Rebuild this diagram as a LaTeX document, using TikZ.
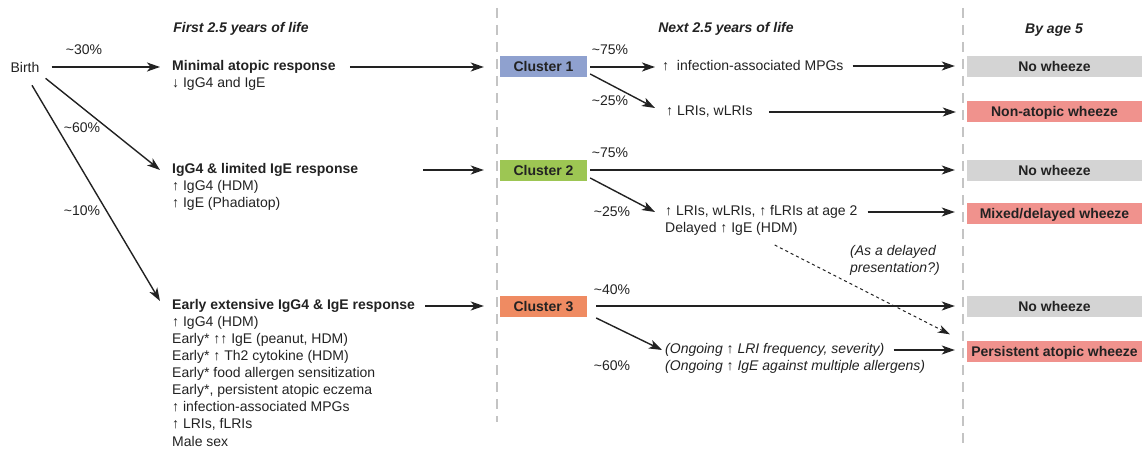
\documentclass[tikz,border=0pt]{standalone}
\usepackage{fontspec}
\setmainfont{Liberation Sans}
\usetikzlibrary{arrows.meta}
\definecolor{cone}{HTML}{8FA1CF}
\definecolor{ctwo}{HTML}{9DC653}
\definecolor{cthree}{HTML}{EF8B62}
\definecolor{nowh}{HTML}{D4D4D4}
\definecolor{wh}{HTML}{F0928D}
\definecolor{ink}{HTML}{222222}
\definecolor{divider}{HTML}{C4C4C4}
\begin{document}
\begin{tikzpicture}[x=1pt,y=-1pt,
  every node/.style={font=\fontsize{14}{17}\selectfont, text=ink, inner sep=0pt},
  txt/.style={anchor=west},
  itx/.style={anchor=west,font=\fontsize{14}{17}\selectfont\itshape},
  hdr/.style={font=\fontsize{14}{17}\selectfont\bfseries\itshape},
  ttl/.style={anchor=west,font=\fontsize{14}{17}\selectfont\bfseries},
  clus/.style={minimum width=87pt, minimum height=21pt, text height=10pt, text depth=0pt, font=\fontsize{14}{17}\selectfont\bfseries},
  outc/.style={minimum width=175pt, minimum height=21pt, text height=10pt, text depth=0pt, font=\fontsize{14}{17}\selectfont\bfseries},
  arr/.style={draw=ink, line width=1.4pt, -{Stealth[length=13pt,width=9pt,inset=3.5pt]}},
  darr/.style={draw=ink, line width=1pt, dash pattern=on 3pt off 3pt, -{Stealth[length=12pt,width=8pt,inset=3.5pt]}},
  divl/.style={draw=divider, line width=2pt, dash pattern=on 10pt off 7pt}
]
\useasboundingbox (0,0) rectangle (1146,452);
% dividers
\draw[divl] (497,8) -- (497,422);
\draw[divl] (963,8) -- (963,448);
% headers
\node[hdr] (h1) at (241,29) {First 2.5 years of life};
\node[hdr] (h2) at (726,29) {Next 2.5 years of life};
\node[hdr] (h3) at (1054,30) {By age 5};
% left column
\node (birth) at (25,67) {Birth};
\node[ttl] (min) at (172,67) {Minimal atopic response};
\node[txt] (mind) at (172,84) {↓ IgG4 and IgE};
\node[ttl] (lim) at (172,170) {IgG4 \& limited IgE response};
\node[txt] (limd1) at (172,187) {↑ IgG4 (HDM)};
\node[txt] (limd2) at (172,204) {↑ IgE (Phadiatop)};
\node[ttl] (early) at (172,306) {Early extensive IgG4 \& IgE response};
\node[txt] (e1) at (172,323) {↑ IgG4 (HDM)};
\node[txt] (e2) at (172,340) {Early* ↑↑ IgE (peanut, HDM)};
\node[txt] (e3) at (172,357) {Early* ↑ Th2 cytokine (HDM)};
\node[txt] (e4) at (172,373.5) {Early* food allergen sensitization};
\node[txt] (e5) at (172,390.5) {Early*, persistent atopic eczema};
\node[txt] (e6) at (172,407) {↑ infection-associated MPGs};
\node[txt] (e7) at (172,424) {↑ LRIs, fLRIs};
\node[txt] (e8) at (172,441) {Male sex};
% percentages left
\node (p1) at (84,50) {\textasciitilde30\%};
\node (p2) at (82,128) {\textasciitilde60\%};
\node (p3) at (82,211) {\textasciitilde10\%};
% clusters
\node[clus, fill=cone] (c1) at (543.5,67) {Cluster 1};
\node[clus, fill=ctwo] (c2) at (543.5,170) {Cluster 2};
\node[clus, fill=cthree] (c3) at (543.5,306) {Cluster 3};
% outcomes
\node[outc, fill=nowh] (nw1) at (1054.5,67) {No wheeze};
\node[outc, fill=wh] (naw) at (1054.5,111) {Non-atopic wheeze};
\node[outc, fill=nowh] (nw2) at (1054.5,170) {No wheeze};
\node[outc, fill=wh] (mdw) at (1054.5,213) {Mixed/delayed wheeze};
\node[outc, fill=nowh] (nw3) at (1054.5,306) {No wheeze};
\node[outc, fill=wh] (paw) at (1054.5,351) {Persistent atopic wheeze};
% middle texts
\node[txt] (mpg) at (662,66) {↑\ \ infection-associated MPGs};
\node[txt] (lri1) at (666,112) {↑ LRIs, wLRIs};
\node[txt] (lri2) at (665,212) {↑ LRIs, wLRIs, ↑ fLRIs at age 2};
\node[txt] (lri2b) at (665,229) {Delayed ↑ IgE (HDM)};
\node[itx] (del1) at (850,252) {(As a delayed};
\node[itx] (del2) at (850,269) {presentation?)};
\node[itx] (ong1) at (665,350) {(Ongoing ↑ LRI frequency, severity)};
\node[itx] (ong2) at (665,367) {(Ongoing ↑ IgE against multiple allergens)};
% percentages middle
\node (q1) at (610,50) {\textasciitilde75\%};
\node (q2) at (610,101) {\textasciitilde25\%};
\node (q3) at (610,153) {\textasciitilde75\%};
\node (q4) at (612,212) {\textasciitilde25\%};
\node (q5) at (612,290) {\textasciitilde40\%};
\node (q6) at (612,366) {\textasciitilde60\%};
% arrows left
\draw[arr] ([xshift=12pt]birth.east) -- ([xshift=-12pt]min.west);
\draw[arr] ([shift={(6,6)}]birth.south east) -- ([xshift=-12pt]lim.west);
\draw[arr] ([shift={(7,13)}]birth.south) -- ([shift={(-12,-5)}]early.west);
\draw[arr] ([xshift=14pt]min.east) -- ([xshift=-16pt]min.east -| c1.west);
\draw[arr] ([xshift=65pt]lim.east) -- ([xshift=-16pt]lim.east -| c2.west);
\draw[arr] ([xshift=10pt]early.east) -- ([xshift=-16pt]early.east -| c3.west);
% arrows middle
\draw[arr] ([xshift=3pt]c1.east) -- ([xshift=-7pt]c1.east -| mpg.west);
\draw[arr] ([xshift=9pt]mpg.east) -- ([xshift=-12pt]mpg.east -| nw1.west);
\draw[arr] ([shift={(3,7)}]c1.east) -- ([shift={(-11,-4)}]lri1.west);
\draw[arr] ([xshift=16pt]lri1.east) -- ([xshift=-11pt]lri1.east -| naw.west);
\draw[arr] ([xshift=3pt]c2.east) -- ([xshift=-12pt]nw2.west);
\draw[arr] ([shift={(3,8)}]c2.east) -- ([xshift=-10pt]lri2.west);
\draw[arr] ([xshift=10pt]lri2.east) -- ([xshift=-12pt]lri2.east -| mdw.west);
\draw[darr] ([shift={(-23,16)}]lri2b.east) -- ([shift={(-17,-6)}]paw.north west);
\draw[arr] ([xshift=9pt]c3.east) -- ([xshift=-12pt]nw3.west);
\draw[arr] ([shift={(9,12)}]c3.east) -- ([xshift=-3pt]ong1.west);
\draw[arr] ([xshift=9pt]ong1.east) -- ([xshift=-12pt]ong1.east -| paw.west);
\end{tikzpicture}
\end{document}
